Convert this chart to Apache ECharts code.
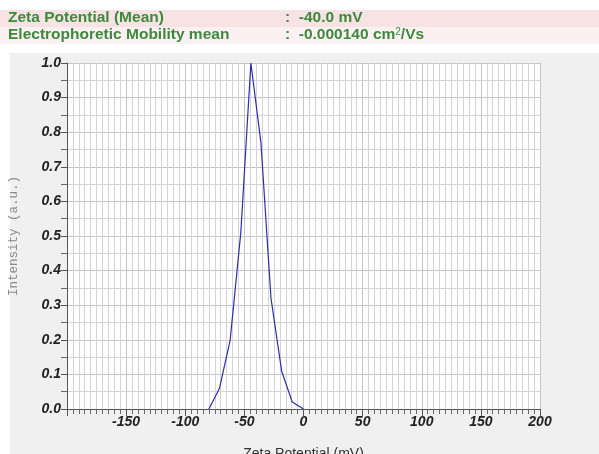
<!DOCTYPE html>
<html>
<head>
<meta charset="utf-8">
<script src="https://cdn.jsdelivr.net/npm/echarts@6/dist/echarts.min.js"></script>
<style>html,body{margin:0;padding:0;background:#fff;}#c{width:599px;height:454px;}</style>
</head>
<body>
<div id="c"></div>
<script>
var zetaValues = [-80, -71, -62, -53, -44.5, -36, -27.5, -18.5, -9.5, 0];
var intensityValues = [0, 0.06, 0.2, 0.51, 1.0, 0.77, 0.32, 0.11, 0.02, 0];
var xTickLabels = ['-150', '-100', '-50', '0', '50', '100', '150', '200'];
var headerLabels = ['Zeta Potential (Mean)', 'Electrophoretic Mobility mean'];
var headerValues = ['-40.0 mV', '-0.000140 cm'];

var data = zetaValues.map(function (x, i) { return [x, intensityValues[i]]; });
var green = '#3d8a3d';
var hFont = 'bold 15.5px Liberation Sans, Arial';
var chart = echarts.init(document.getElementById('c'), null, { renderer: 'canvas' });
chart.setOption({
  backgroundColor: '#ffffff',
  animation: false,
  graphic: [
    { type: 'rect', z: -10, shape: { x: 10, y: 53, width: 589, height: 401 }, style: { fill: '#f0f0f1' } },
    { type: 'rect', z: -10, shape: { x: 0, y: 10, width: 599, height: 17 }, style: { fill: '#f7e2e4' } },
    { type: 'rect', z: -10, shape: { x: 0, y: 27, width: 599, height: 17 }, style: { fill: '#fbf0f2' } },
    { type: 'text', left: 8, top: 10, style: { text: headerLabels[0], font: hFont, fill: green } },
    { type: 'text', left: 8, top: 27, style: { text: headerLabels[1], font: hFont, fill: green } },
    { type: 'text', left: 285, top: 10, style: { text: ':  ' + headerValues[0], font: hFont, fill: green } },
    { type: 'text', left: 285, top: 27, style: {
        text: '{a|:  ' + headerValues[1] + '}{s|2}{a|/Vs}',
        rich: {
          a: { font: hFont, fill: green, color: green },
          s: { font: '10px Liberation Sans, Arial', fill: green, color: green, padding: [0, 0, 6, 0] }
        }
      } }
  ],
  grid: { left: 67, right: 59, top: 63, bottom: 45, show: true, backgroundColor: '#ffffff', borderWidth: 0, outerBoundsMode: 'none', containLabel: false },
  xAxis: {
    type: 'value', min: -200, max: 200, interval: 50,
    name: 'Zeta Potential (mV)', nameLocation: 'middle', nameGap: 38,
    nameTextStyle: { fontFamily: 'Liberation Sans, Arial', fontSize: 14, color: '#333' },
    axisLine: { show: true, onZero: false, lineStyle: { color: '#555', width: 1 } },
    axisTick: { show: true, length: 7, lineStyle: { color: '#555' } },
    minorTick: { show: true, splitNumber: 10, length: 5, lineStyle: { color: '#666' } },
    axisLabel: {
      fontFamily: 'Liberation Sans, Arial', fontSize: 14, fontWeight: 'bold', fontStyle: 'italic', color: '#222', margin: 6,
      formatter: function (v) { var s = String(v); return xTickLabels.indexOf(s) >= 0 ? s : ''; }
    },
    splitLine: { show: true, lineStyle: { color: '#c6c6c6', width: 1 } },
    minorSplitLine: { show: true, lineStyle: { color: '#d4d4d4', width: 1 } }
  },
  yAxis: {
    type: 'value', min: 0, max: 1, interval: 0.1,
    name: 'Intensity (a.u.)', nameLocation: 'middle', nameGap: 47,
    nameTextStyle: { fontFamily: 'Liberation Mono, DejaVu Sans Mono, monospace', fontSize: 12.5, color: '#8a8a8a' },
    axisLine: { show: true, onZero: false, lineStyle: { color: '#555', width: 1 } },
    axisTick: { show: true, length: 6, lineStyle: { color: '#555' } },
    minorTick: { show: true, splitNumber: 2, length: 6, lineStyle: { color: '#666' } },
    axisLabel: {
      fontFamily: 'Liberation Sans, Arial', fontSize: 14, fontWeight: 'bold', fontStyle: 'italic', color: '#222', margin: 6,
      formatter: function (v) { return v.toFixed(1); }
    },
    splitLine: { show: true, lineStyle: { color: '#c6c6c6', width: 1 } },
    minorSplitLine: { show: true, lineStyle: { color: '#d4d4d4', width: 1 } }
  },
  series: [{
    type: 'line', data: data, showSymbol: false, symbol: 'none',
    lineStyle: { color: '#2b2bb5', width: 1.2 }
  }]
});
</script>
</body>
</html>
